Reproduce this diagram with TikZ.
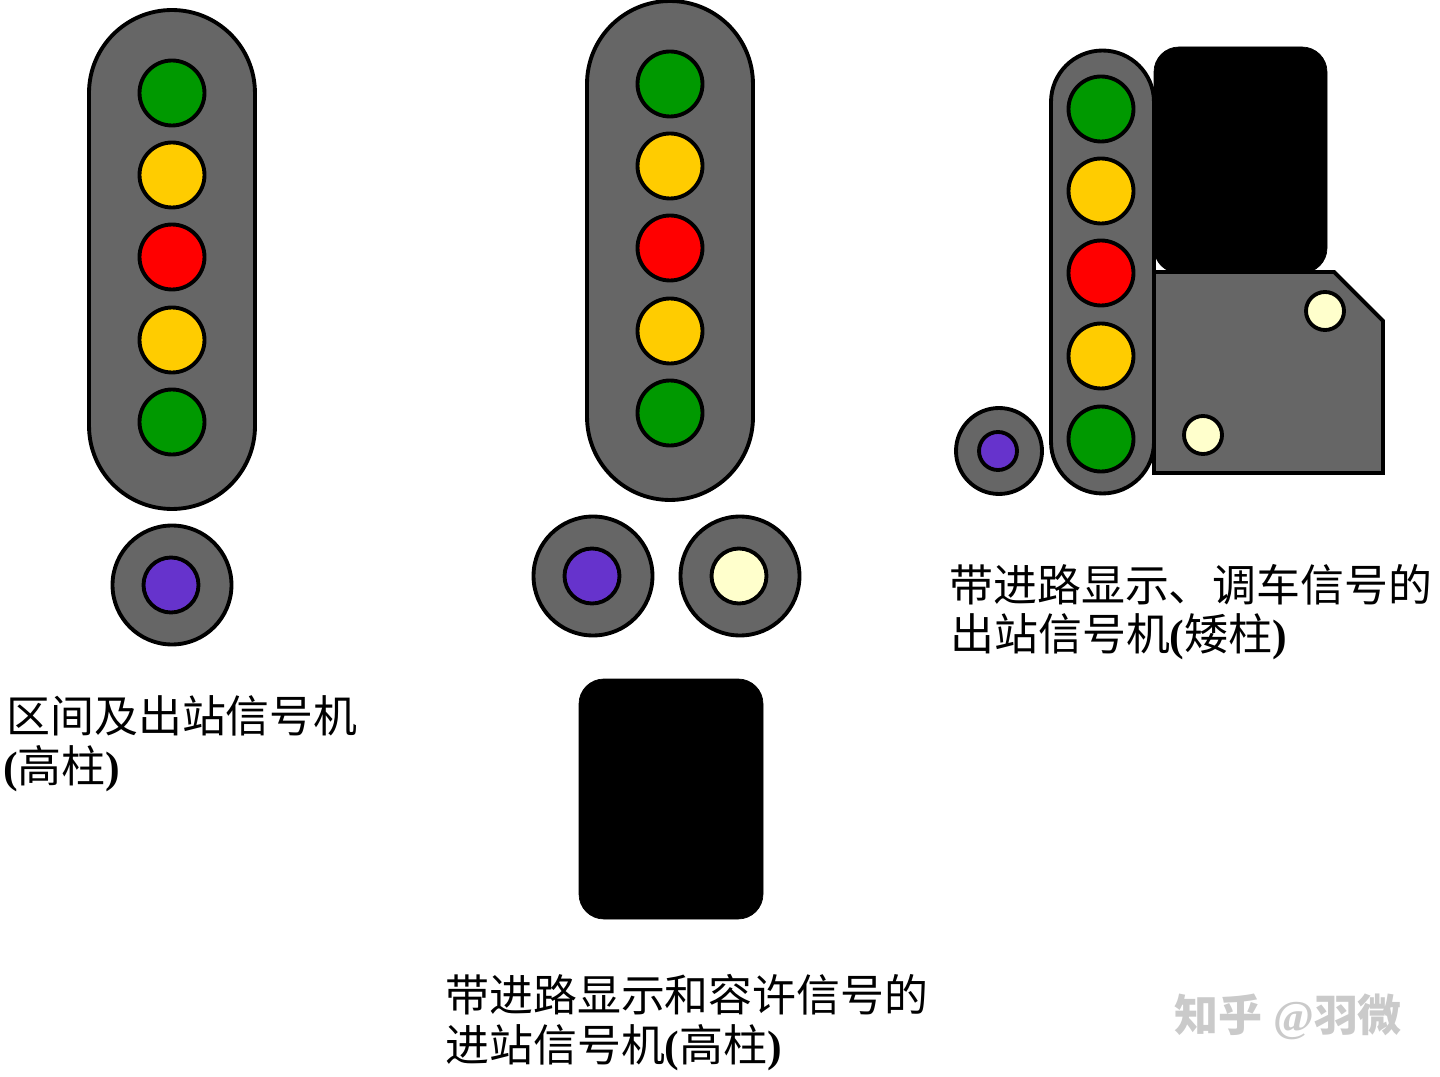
\documentclass[tikz,border=0pt]{standalone}
\usepackage{fontspec}
\setmainfont{Liberation Serif}
\newfontfamily\cjk{Noto Sans CJK SC}
\usetikzlibrary{positioning}
\definecolor{housing}{HTML}{666666}
\definecolor{lampgreen}{HTML}{009900}
\definecolor{lampyellow}{HTML}{FFCC00}
\definecolor{lampred}{HTML}{FF0000}
\definecolor{lamppurple}{HTML}{6633CC}
\definecolor{lampwhite}{HTML}{FFFFCC}
\definecolor{markgray}{HTML}{CACACA}
\tikzset{
    lamp/.style={circle, draw=black, line width=2.2pt, inner sep=0pt, minimum size=1.3cm},
    smalllamp/.style={circle, draw=black, line width=2.2pt, inner sep=0pt, minimum size=0.76cm},
    lens/.style={circle, draw=black, line width=2.2pt, inner sep=0pt, minimum size=1.1cm},
    roundel/.style={circle, draw=black, line width=2.2pt, fill=housing, inner sep=0pt, minimum size=2.38cm},
    smallroundel/.style={circle, draw=black, line width=2.2pt, fill=housing, inner sep=0pt, minimum size=1.72cm},
    post/.style={draw=black, line width=2.2pt, fill=housing},
    blackboard/.style={draw=black, fill=black, rounded corners=0.5cm},
    caption/.style={anchor=west, inner sep=0pt, font=\fontsize{25pt}{30pt}\selectfont}
}
\begin{document}
\begin{tikzpicture}[x=0.02cm, y=-0.02cm]
    \useasboundingbox (0, 0) rectangle (1440, 1077);

    % first signal
    \draw[post] (89, 93) arc[start angle=180, end angle=0, radius=1.66cm] -- (255, 426) arc[start angle=0, end angle=-180, radius=1.66cm] -- cycle;
    \node[lamp, fill=lampgreen] (a1) at (172, 93) {};
    \node[lamp, fill=lampyellow] (a2) at (172, 175) {};
    \node[lamp, fill=lampred] (a3) at (172, 257) {};
    \node[lamp, fill=lampyellow] (a4) at (172, 340) {};
    \node[lamp, fill=lampgreen] (a5) at (172, 422) {};
    \node[roundel] (a6) at (172, 585) {};
    \node[lens, fill=lamppurple] (a7) at (171, 585) {};
    \node[caption] (acap1) at (6, 716) {{\cjk 区间及出站信号机}};
    \node[caption] (acap2) at (3, 769) {\textbf{(}{\cjk 高柱}\textbf{)}};

    % second signal
    \draw[post] (587, 84) arc[start angle=180, end angle=0, radius=1.66cm] -- (753, 417) arc[start angle=0, end angle=-180, radius=1.66cm] -- cycle;
    \node[lamp, fill=lampgreen] (b1) at (670, 84) {};
    \node[lamp, fill=lampyellow] (b2) at (670, 166) {};
    \node[lamp, fill=lampred] (b3) at (670, 248) {};
    \node[lamp, fill=lampyellow] (b4) at (670, 331) {};
    \node[lamp, fill=lampgreen] (b5) at (670, 413) {};
    \node[roundel] (b6) at (593, 576) {};
    \node[lens, fill=lamppurple] (b7) at (592, 576) {};
    \node[roundel] (b8) at (740, 576) {};
    \node[lens, fill=lampwhite] (b9) at (739, 576) {};
    \draw[blackboard] (579, 679) rectangle (763, 919);
    \node[caption] (bcap1) at (445, 995) {{\cjk 带进路显示和容许信号的}};
    \node[caption] (bcap2) at (445, 1048) {{\cjk 进站信号机}\textbf{(}{\cjk 高柱}\textbf{)}};

    % third signal
    \draw[blackboard] (1154, 47) rectangle (1327, 273);
    \draw[post] (1154, 272) -- (1334, 272) -- (1383, 321) -- (1383, 473) -- (1154, 473) -- cycle;
    \draw[post] (1051, 102) arc[start angle=180, end angle=0, radius=1.03cm] -- (1154, 442) arc[start angle=0, end angle=-180, radius=1.03cm] -- cycle;
    \node[lamp, fill=lampgreen] (c1) at (1101, 109) {};
    \node[lamp, fill=lampyellow] (c2) at (1101, 191) {};
    \node[lamp, fill=lampred] (c3) at (1101, 273) {};
    \node[lamp, fill=lampyellow] (c4) at (1101, 356) {};
    \node[lamp, fill=lampgreen] (c5) at (1101, 439) {};
    \node[smalllamp, fill=lampwhite] (c6) at (1325, 311) {};
    \node[smalllamp, fill=lampwhite] (c7) at (1203, 435) {};
    \node[smallroundel] (c8) at (999, 451) {};
    \node[smalllamp, fill=lamppurple] (c9) at (998, 451) {};
    \node[caption] (ccap1) at (949, 585) {{\cjk 带进路显示、调车信号的}};
    \node[caption] (ccap2) at (950, 637) {{\cjk 出站信号机}\textbf{(}{\cjk 矮柱}\textbf{)}};

    \node[anchor=west, inner sep=0pt, text=markgray, font=\fontsize{25pt}{30pt}\selectfont\bfseries] (mark) at (1174, 1017) {{\cjk 知乎} @{\cjk 羽微}};
\end{tikzpicture}
\end{document}
